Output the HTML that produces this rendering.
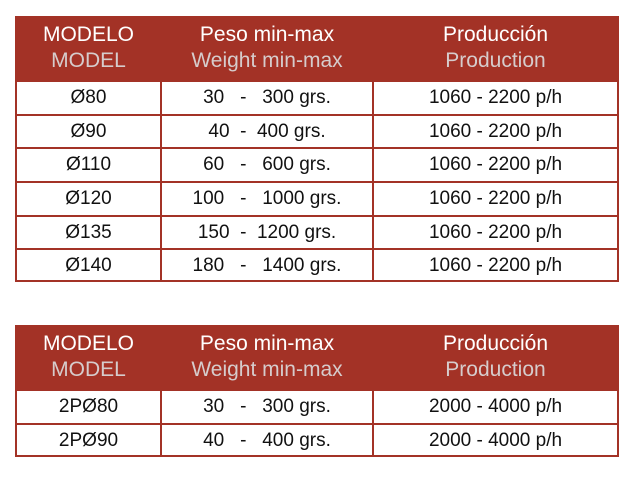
<!DOCTYPE html>
<html><head><meta charset="utf-8"><style>
body{margin:0;width:631px;height:480px;background:#fff;position:relative;font-family:"Liberation Sans",sans-serif;overflow:hidden}
.t{position:absolute;left:15px;width:604px;border:2px solid #a33226;box-sizing:border-box;background:#fff}
.h{position:absolute;left:0;right:0;top:0;height:62px;background:#a33226}
.hc{position:absolute;top:4px;text-align:center;font-size:21px;line-height:26px;color:#fff}
.hc span{display:block;color:#d6cccc}
.r{position:absolute;left:0;right:0;height:34px;border-top:2px solid #a33226;box-sizing:border-box}
.c{position:absolute;top:0;height:32px;line-height:32px;text-align:center;font-size:19px;color:#111;white-space:pre}
.v{position:absolute;top:62px;bottom:0;width:2px;background:#a33226}
</style></head><body>
<div class="t" style="top:16px;height:266px">
 <div class="h">
  <div class="hc" style="left:0;width:143px">MODELO<span>MODEL</span></div>
  <div class="hc" style="left:145px;width:210px">Peso min-max<span>Weight min-max</span></div>
  <div class="hc" style="left:357px;width:243px">Producción<span>Production</span></div>
 </div>
 <div class="v" style="left:143px"></div><div class="v" style="left:355px"></div>
 <div class="r" style="top:62px"><div class="c" style="left:0;width:143px">Ø80</div><div class="c" style="left:145px;width:210px">30   -   300 grs.</div><div class="c" style="left:357px;width:243px">1060 - 2200 p/h</div></div>
 <div class="r" style="top:96px"><div class="c" style="left:0;width:143px">Ø90</div><div class="c" style="left:145px;width:210px">40  -  400 grs.</div><div class="c" style="left:357px;width:243px">1060 - 2200 p/h</div></div>
 <div class="r" style="top:129px"><div class="c" style="left:0;width:143px">Ø110</div><div class="c" style="left:145px;width:210px">60   -   600 grs.</div><div class="c" style="left:357px;width:243px">1060 - 2200 p/h</div></div>
 <div class="r" style="top:163px"><div class="c" style="left:0;width:143px">Ø120</div><div class="c" style="left:145px;width:210px">100   -   1000 grs.</div><div class="c" style="left:357px;width:243px">1060 - 2200 p/h</div></div>
 <div class="r" style="top:197px"><div class="c" style="left:0;width:143px">Ø135</div><div class="c" style="left:145px;width:210px">150  -  1200 grs.</div><div class="c" style="left:357px;width:243px">1060 - 2200 p/h</div></div>
 <div class="r" style="top:230px"><div class="c" style="left:0;width:143px">Ø140</div><div class="c" style="left:145px;width:210px">180   -   1400 grs.</div><div class="c" style="left:357px;width:243px">1060 - 2200 p/h</div></div>
</div>
<div class="t" style="top:325px;height:132px">
 <div class="h">
  <div class="hc" style="left:0;width:143px">MODELO<span>MODEL</span></div>
  <div class="hc" style="left:145px;width:210px">Peso min-max<span>Weight min-max</span></div>
  <div class="hc" style="left:357px;width:243px">Producción<span>Production</span></div>
 </div>
 <div class="v" style="left:143px"></div><div class="v" style="left:355px"></div>
 <div class="r" style="top:62px"><div class="c" style="left:0;width:143px">2PØ80</div><div class="c" style="left:145px;width:210px">30   -   300 grs.</div><div class="c" style="left:357px;width:243px">2000 - 4000 p/h</div></div>
 <div class="r" style="top:96px"><div class="c" style="left:0;width:143px">2PØ90</div><div class="c" style="left:145px;width:210px">40   -   400 grs.</div><div class="c" style="left:357px;width:243px">2000 - 4000 p/h</div></div>
</div>
</body></html>
